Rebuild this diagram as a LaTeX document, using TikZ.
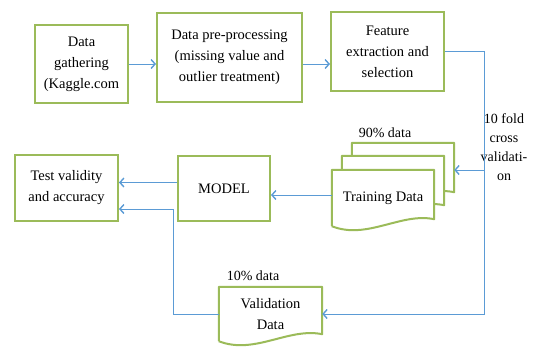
\documentclass[tikz,border=0pt]{standalone}
\usepackage{fontspec}
\setmainfont{Liberation Serif}
\usepackage{tikz}
\definecolor{boxGreen}{RGB}{155, 187, 89}
\definecolor{flowBlue}{RGB}{91, 155, 213}
\usetikzlibrary{arrows.meta, positioning, calc, backgrounds}

\begin{document}
\begin{tikzpicture}[
    x=1pt, y=-1pt,
    font=\fontsize{14.5}{21}\selectfont,
    box/.style={rectangle, draw=boxGreen, line width=2pt, fill=white, minimum width=#1, align=center, inner sep=2pt},
    doc/.style={rectangle, minimum width=102pt, minimum height=56pt, align=center},
    docline/.style={draw=boxGreen, line width=2pt, fill=white, line join=round},
    flow/.style={draw=flowBlue, line width=1pt, -{Straight Barb[length=4pt, width=9pt, line width=1.4pt]}},
    note/.style={align=center, inner sep=0pt, font=\fontsize{14}{19}\selectfont}
]
    \useasboundingbox (0,0) rectangle (533,349);

    % Top row
    \node[box=93pt, minimum height=78pt] (gather) at (81.5,64) {Data\\gathering\\(Kaggle.com};
    \node[box=145pt, minimum height=89pt] (prep) at (229.5,57.5) {Data pre-processing\\(missing value and\\outlier treatment)};
    \node[box=113pt, minimum height=79pt] (feature) at (387.5,51.5) {Feature\\extraction and\\selection};

    % Bottom part
    \node[box=103pt, minimum height=66pt] (test) at (66.5,188) {Test validity\\and accuracy};
    \node[box=92pt, minimum height=65pt] (model) at (224,188.5) {MODEL};
    \node[doc] (train3) at (403,171) {};
    \node[doc] (train2) at (393,184) {};
    \node[doc] (train) at (383,198) {Training Data};
    \node[doc, minimum width=103pt, minimum height=54pt] (valid) at (270.5,314) {Validation\\Data};

    % Document shapes
    \begin{scope}[on background layer]
        \foreach \d in {train3, train2, train, valid}
            \draw[docline] (\d.south west) -- (\d.north west) -- (\d.north east) -- ([yshift=7pt]\d.south east)
                .. controls ($(\d.south)+(18pt,14pt)$) and ($(\d.south)+(-16pt,-14pt)$) .. (\d.south west);
    \end{scope}

    % Labels
    \node[note] (share90) at (385,133) {90\% data};
    \node[note] (share10) at (253,276) {10\% data};
    \node[note] (folds) at (504,147) {10 fold\\cross\\validati-\\on};

    % Connections
    \coordinate (split) at (484,170);
    \coordinate (turn) at (173,209);
    \draw[flow] (gather.east) -- (gather.east -| prep.west);
    \draw[flow] (prep.east |- gather.east) -- (feature.west |- gather.east);
    \draw[flow] (feature.east) -| (split |- valid.east) -- (valid.east);
    \draw[flow] (split) -- (split -| train3.east);
    \draw[flow] ([yshift=3pt]train.west) -- ([yshift=3pt]train.west -| model.east);
    \draw[flow] ([yshift=6pt]model.west) -- ([yshift=6pt]model.west -| test.east);
    \draw[flow] (valid.west) -| (turn) -- (turn -| test.east);
\end{tikzpicture}
\end{document}
